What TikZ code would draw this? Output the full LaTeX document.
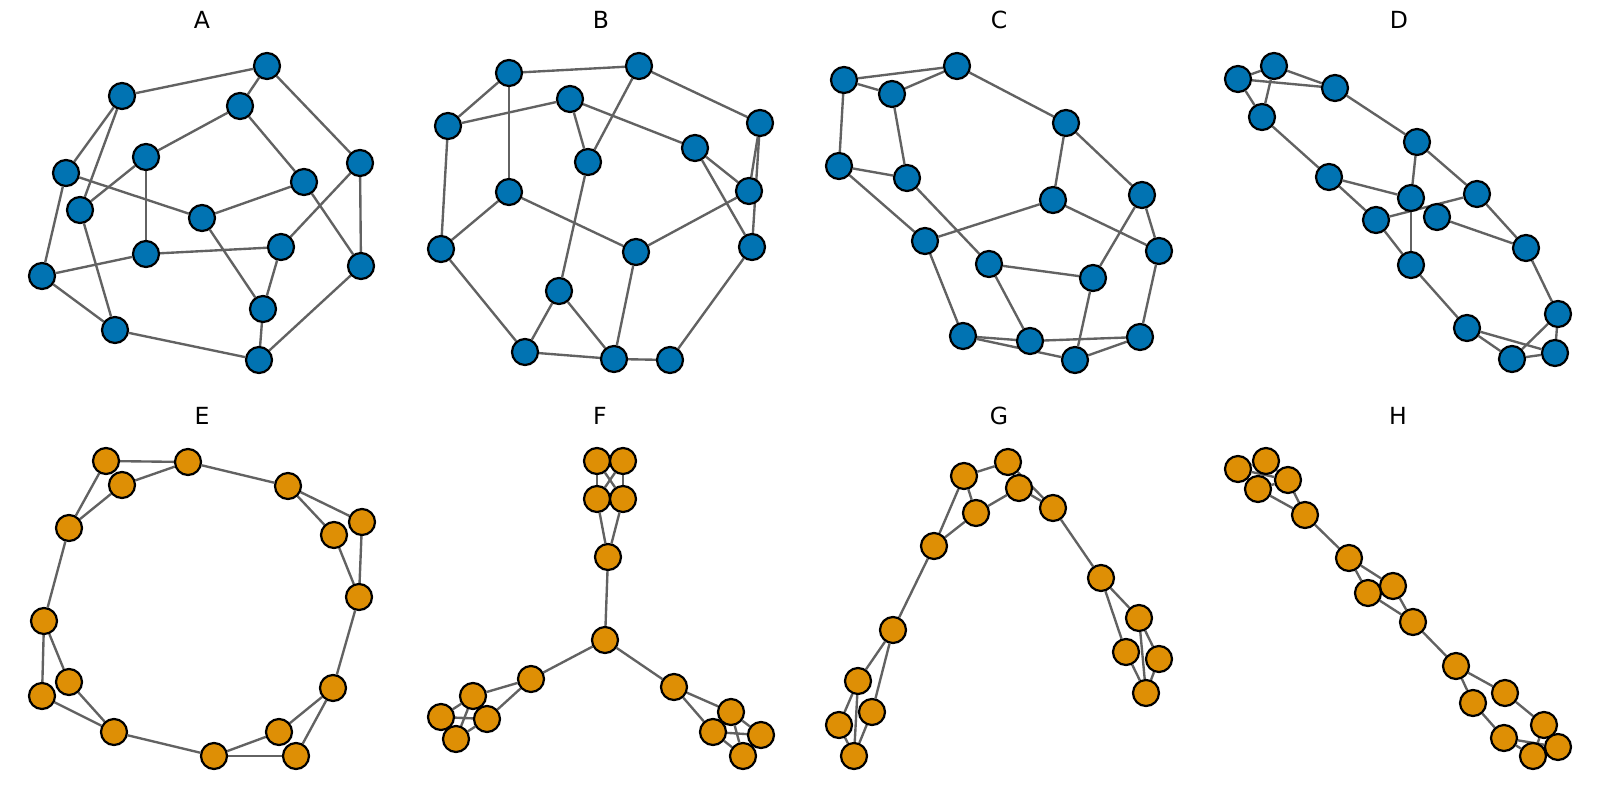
\documentclass[tikz,border=0pt]{standalone}
\usepackage{fontspec}
\setmainfont{DejaVu Sans}
\usetikzlibrary{backgrounds}
\definecolor{cbblue}{RGB}{1,115,178}
\definecolor{cborange}{RGB}{222,143,5}
\definecolor{edgegray}{RGB}{98,98,98}
\tikzset{
  vtx/.style={circle, draw=black, line width=1.25pt, minimum size=0.52cm, inner sep=0pt},
  bluevtx/.style={vtx, fill=cbblue},
  orangevtx/.style={vtx, fill=cborange},
  link/.style={edgegray, line width=1.35pt},
  paneltitle/.style={font=\fontsize{13.4}{16}\selectfont, anchor=base}
}

\begin{document}
\begin{tikzpicture}[x=0.02cm, y=-0.02cm]
    \useasboundingbox (0,0) rectangle (1600,795);

    % Panel A
    \node[paneltitle] (ta) at (202,28) {A};
    \foreach \n/\x/\y in {a1/267/66, a2/122/96, a3/240/106, a4/146/157, a5/360/163, a6/66/173,
        a7/304/182, a8/80/210, a9/202/218, a10/281/247, a11/146/254, a12/361/266,
        a13/42/276, a14/263/309, a15/115/330, a16/259/360}
        \node[bluevtx] (\n) at (\x,\y) {};
    \begin{scope}[on background layer]
        \foreach \u/\v in {a1/a2, a1/a3, a1/a5, a3/a4, a3/a7, a2/a6, a2/a8, a4/a8, a4/a11,
            a6/a9, a6/a13, a9/a7, a7/a12, a5/a12, a5/a10, a9/a14, a10/a14, a11/a10,
            a11/a13, a8/a15, a13/a15, a15/a16, a14/a16, a12/a16}
            \draw[link] (\u) -- (\v);
    \end{scope}

    % Panel B
    \node[paneltitle] (tb) at (601,28) {B};
    \foreach \n/\x/\y in {b1/509/73, b2/639/66, b3/570/99, b4/448/126, b5/760/123, b6/695/148,
        b7/588/162, b8/509/192, b9/749/191, b10/441/249, b11/636/252, b12/752/247,
        b13/559/291, b14/525/352, b15/614/359, b16/670/360}
        \node[bluevtx] (\n) at (\x,\y) {};
    \begin{scope}[on background layer]
        \foreach \u/\v in {b1/b2, b1/b4, b1/b8, b4/b3, b4/b10, b3/b7, b3/b6, b2/b7, b2/b5,
            b5/b9, b5/b12, b6/b9, b6/b12, b8/b10, b8/b11, b9/b11, b7/b13, b13/b14,
            b13/b15, b10/b14, b11/b15, b14/b15, b15/b16, b12/b16}
            \draw[link] (\u) -- (\v);
    \end{scope}

    % Panel C
    \node[paneltitle] (tc) at (999,28) {C};
    \foreach \n/\x/\y in {c1/844/80, c2/892/94, c3/957/66, c4/1066/123, c5/839/166, c6/907/178,
        c7/1053/200, c8/1142/195, c9/925/241, c10/1159/251, c11/989/264, c12/1093/278,
        c13/963/336, c14/1030/341, c15/1140/337, c16/1075/360}
        \node[bluevtx] (\n) at (\x,\y) {};
    \begin{scope}[on background layer]
        \foreach \u/\v in {c1/c3, c1/c2, c2/c3, c1/c5, c2/c6, c3/c4, c4/c7, c4/c8, c5/c6,
            c5/c9, c6/c11, c9/c7, c7/c10, c8/c10, c8/c12, c11/c12, c9/c13, c11/c14,
            c12/c16, c10/c15, c13/c14, c13/c16, c14/c15, c15/c16}
            \draw[link] (\u) -- (\v);
    \end{scope}

    % Panel D
    \node[paneltitle] (td) at (1399,28) {D};
    \foreach \n/\x/\y in {d1/1238/79, d2/1274/66, d3/1335/88, d4/1262/117, d5/1417/142,
        d6/1329/177, d7/1477/194, d8/1411/198, d9/1376/220, d10/1437/217, d11/1526/248,
        d12/1411/265, d13/1558/314, d14/1467/328, d15/1512/359, d16/1555/353}
        \node[bluevtx] (\n) at (\x,\y) {};
    \begin{scope}[on background layer]
        \foreach \u/\v in {d1/d2, d1/d3, d2/d3, d1/d4, d2/d4, d3/d5, d4/d6, d5/d8, d5/d7,
            d6/d8, d6/d9, d9/d7, d8/d12, d9/d12, d10/d11, d7/d11, d11/d13, d12/d14,
            d14/d16, d14/d15, d13/d15, d13/d16, d15/d16}
            \draw[link] (\u) -- (\v);
    \end{scope}

    % Panel E
    \node[paneltitle] (te) at (202,424) {E};
    \foreach \n/\x/\y in {e1/106/461, e2/188/462, e3/122/485, e4/288/486, e5/362/522,
        e6/334/535, e7/69/528, e8/359/597, e9/44/621, e10/69/682, e11/42/696,
        e12/333/688, e13/114/732, e14/279/732, e15/214/756, e16/296/756}
        \node[orangevtx] (\n) at (\x,\y) {};
    \begin{scope}[on background layer]
        \foreach \u/\v in {e1/e2, e1/e7, e3/e2, e3/e7, e2/e4, e4/e5, e4/e6, e5/e8, e6/e8,
            e7/e9, e9/e11, e9/e10, e10/e13, e11/e13, e8/e12, e13/e15, e12/e14, e12/e16,
            e14/e15, e15/e16}
            \draw[link] (\u) -- (\v);
    \end{scope}

    % Panel F
    \node[paneltitle] (tf) at (600,424) {F};
    \foreach \n/\x/\y in {f1/597/461, f2/623/461, f3/597/499, f4/623/499, f5/608/557,
        f6/605/640, f7/531/679, f8/473/696, f9/441/717, f10/487/719, f11/456/739,
        f12/674/687, f13/731/712, f14/713/732, f15/761/735, f16/743/756}
        \node[orangevtx] (\n) at (\x,\y) {};
    \begin{scope}[on background layer]
        \foreach \u/\v in {f1/f2, f1/f3, f1/f4, f2/f3, f2/f4, f3/f4, f3/f5, f4/f5, f5/f6,
            f6/f7, f6/f12, f7/f8, f7/f10, f8/f9, f8/f10, f8/f11, f9/f10, f9/f11, f10/f11,
            f12/f13, f12/f14, f13/f14, f13/f15, f13/f16, f14/f15, f14/f16, f15/f16}
            \draw[link] (\u) -- (\v);
    \end{scope}

    % Panel G
    \node[paneltitle] (tg) at (999,424) {G};
    \foreach \n/\x/\y in {g1/1008/462, g2/964/476, g3/1019/488, g4/976/513, g5/1053/508,
        g6/934/546, g7/1101/578, g8/893/630, g9/1139/618, g10/1126/652, g11/1159/659,
        g12/1146/693, g13/858/681, g14/872/712, g15/839/725, g16/854/756}
        \node[orangevtx] (\n) at (\x,\y) {};
    \begin{scope}[on background layer]
        \foreach \u/\v in {g1/g2, g1/g5, g1/g3, g2/g4, g2/g6, g3/g4, g3/g5, g4/g6, g5/g7,
            g6/g8, g7/g9, g7/g10, g9/g11, g9/g12, g10/g12, g11/g12, g8/g13, g8/g14,
            g13/g15, g13/g16, g14/g16, g15/g16}
            \draw[link] (\u) -- (\v);
    \end{scope}

    % Panel H
    \node[paneltitle] (th) at (1398,424) {H};
    \foreach \n/\x/\y in {h1/1238/469, h2/1266/461, h3/1288/480, h4/1258/489, h5/1305/515,
        h6/1349/558, h7/1393/586, h8/1368/593, h9/1413/622, h10/1456/666, h11/1505/693,
        h12/1473/703, h13/1544/725, h14/1504/738, h15/1558/747, h16/1533/756}
        \node[orangevtx] (\n) at (\x,\y) {};
    \begin{scope}[on background layer]
        \foreach \u/\v in {h1/h2, h1/h3, h1/h4, h2/h3, h2/h4, h3/h4, h3/h5, h4/h5, h5/h6,
            h6/h7, h6/h8, h7/h9, h8/h9, h9/h10, h10/h11, h10/h12, h11/h13, h12/h14,
            h14/h15, h14/h16, h13/h15, h13/h16, h15/h16}
            \draw[link] (\u) -- (\v);
    \end{scope}
\end{tikzpicture}
\end{document}
